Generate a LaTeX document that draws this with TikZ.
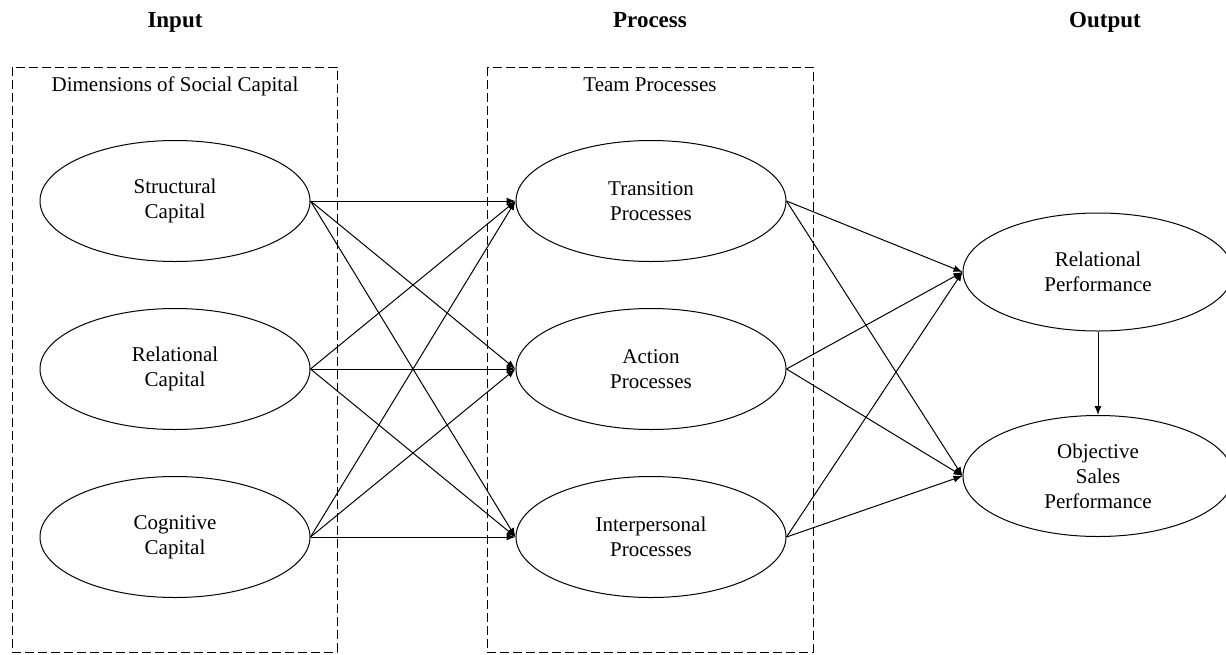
\documentclass[tikz,border=0pt]{standalone}
\usepackage{fontspec}
\setmainfont{Liberation Serif}
\usetikzlibrary{shapes.geometric,arrows.meta}
\tikzset{
  latent/.style={draw,ellipse,line width=1pt,minimum width=270pt,minimum height=121pt,inner sep=0pt,align=center,font=\fontsize{21}{25}\selectfont},
  group/.style={draw,dash pattern=on 9pt off 4pt,line width=1pt},
  stage/.style={font=\fontsize{23}{26}\selectfont\bfseries,text height=16pt,text depth=5pt},
  boxlabel/.style={font=\fontsize{21}{25}\selectfont,text height=15pt,text depth=5pt},
}
\begin{document}
\begin{tikzpicture}[x=1pt,y=-1pt]
      \useasboundingbox (0,0) rectangle (1226,654);
      \draw[group] (12,67) rectangle (337,652);
      \draw[group] (487,67) rectangle (813,652);
      \draw
        (175,22) node[stage] (in){Input}
        (650,22) node[stage] (pr){Process}
        (1105,22) node[stage] (out){Output}
        (175,86) node[boxlabel] (dim){Dimensions of Social Capital}
        (650,86) node[boxlabel] (team){Team Processes}
        (175,201) node[latent] (sc){Structural\\Capital}
        (175,369) node[latent] (rc){Relational\\Capital}
        (175,537) node[latent] (cc){Cognitive\\Capital}
        (651,201) node[latent] (tp){Transition\\Processes}
        (651,369) node[latent] (ap){Action\\Processes}
        (651,537) node[latent] (ip){Interpersonal\\Processes}
        (1098,272) node[latent,minimum height=118pt] (rp){Relational\\Performance}
        (1098,476) node[latent] (osp){Objective\\Sales\\Performance};
      \begin{scope}[-{Latex[length=9pt,width=7pt]},line width=1pt]
        \draw (sc.east) to (tp.west);
        \draw (sc.east) to (ap.west);
        \draw (sc.east) to (ip.west);
        \draw (rc.east) to (tp.west);
        \draw (rc.east) to (ap.west);
        \draw (rc.east) to (ip.west);
        \draw (cc.east) to (tp.west);
        \draw (cc.east) to (ap.west);
        \draw (cc.east) to (ip.west);
        \draw (tp.east) to (rp.west);
        \draw (tp.east) to (osp.west);
        \draw (ap.east) to (rp.west);
        \draw (ap.east) to (osp.west);
        \draw (ip.east) to (rp.west);
        \draw (ip.east) to (osp.west);
        \draw (rp.south) to (osp.north);
      \end{scope}
    \end{tikzpicture}
\end{document}
